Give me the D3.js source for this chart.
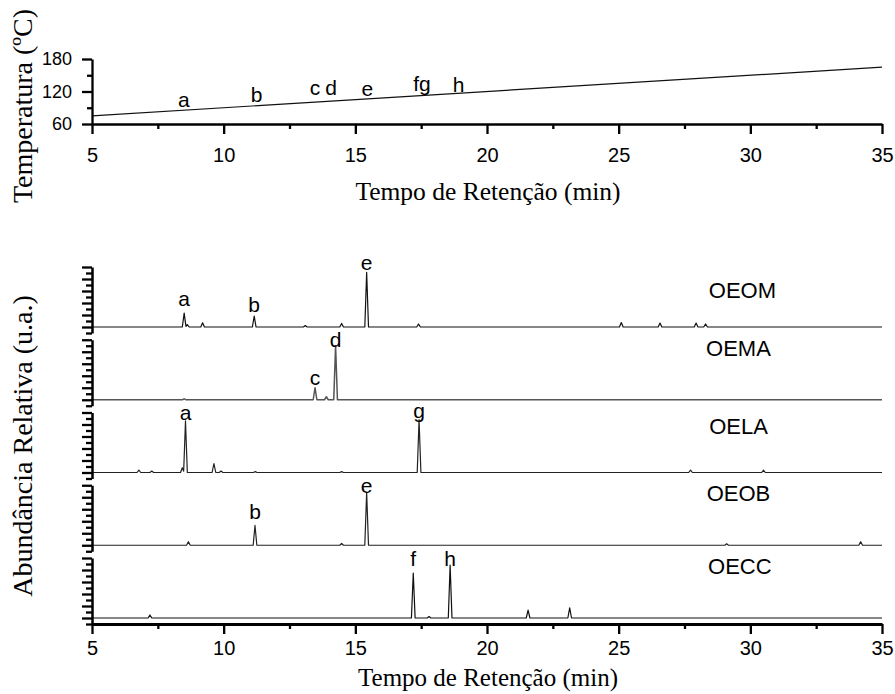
<!DOCTYPE html>
<html>
<head>
<meta charset="utf-8">
<script src="https://cdn.jsdelivr.net/npm/d3@7"></script>
<style>
  body { margin: 0; background: #fff; }
  svg { display: block; }
  .sans { font-family: "Liberation Sans", Arial, sans-serif; }
  .serif { font-family: "Liberation Serif", "Times New Roman", serif; }
</style>
</head>
<body>
<script>
// ---- Oven temperature program (retention time in min, temperature in °C)
const programTime = [5, 35];
const programTemp = [75, 165];

// Compounds marked on the temperature ramp
const compoundLetters = ["a", "b", "c", "d", "e", "fg", "h"];
const compoundTimes = [8.49, 11.25, 13.47, 14.08, 15.46, 17.53, 18.92];
const compoundLabelTemps = [91.4, 100.6, 113.5, 113.5, 111.7, 120.5, 119.6];

// ---- Chromatograms: [retention time (min), relative abundance]
const samples = ["OEOM", "OEMA", "OELA", "OEOB", "OECC"];
const peaksOEOM = [[8.5, 23], [8.62, 4], [9.2, 7], [11.16, 18], [13.1, 2.5], [14.48, 6], [15.43, 91],
                   [17.4, 5], [25.1, 7.5], [26.57, 6.5], [27.94, 6.5], [28.3, 5]];
const peaksOEMA = [[8.5, 1.5], [13.47, 20], [13.9, 5], [14.25, 90]];
const peaksOELA = [[6.78, 4], [7.27, 2.5], [8.43, 8], [8.55, 86], [9.63, 15], [9.9, 2.5], [11.2, 1.5],
                   [14.48, 1.5], [17.42, 88], [27.73, 4], [30.5, 4]];
const peaksOEOB = [[8.66, 6], [11.19, 33], [14.48, 3], [15.43, 88], [29.1, 2.5], [34.19, 6]];
const peaksOECC = [[7.2, 5], [17.2, 75], [17.8, 2.5], [18.6, 88], [21.56, 13], [23.14, 17]];
const samplePeaks = [peaksOEOM, peaksOEMA, peaksOELA, peaksOEOB, peaksOECC];

// Peak identifications: [letter, retention time, label height]
const labelsOEOM = [["a", 8.5, 35], ["b", 11.16, 25.5], ["e", 15.43, 95]];
const labelsOEMA = [["c", 13.47, 24.6], ["d", 14.25, 88]];
const labelsOELA = [["a", 8.55, 87.5], ["g", 17.42, 91]];
const labelsOEOB = [["b", 11.19, 43.7], ["e", 15.43, 87.6]];
const labelsOECC = [["f", 17.2, 87], ["h", 18.6, 87]];
const sampleLabels = [labelsOEOM, labelsOEMA, labelsOELA, labelsOEOB, labelsOECC];

// Sample name placement [time, height]
const nameTimes = [29.7, 29.55, 29.55, 29.55, 29.6];
const nameHeights = [48, 73, 64, 74, 73];

const timeTicks = [5, 10, 15, 20, 25, 30, 35];
const timeMinorTicks = [7.5, 12.5, 17.5, 22.5, 27.5, 32.5];
const tempTicks = [60, 120, 180];
const tempMinorTicks = [90, 150];
const layerTicks = [0, 20, 40, 60, 80, 100];
const layerMinorTicks = [-10, 10, 30, 50, 70, 90];

// ---- Layout
const W = 895, H = 694;
const svg = d3.select("body").append("svg").attr("width", W).attr("height", H);

const x = d3.scaleLinear().domain([5, 35]).range([92, 882]);

// ===== Top panel: temperature program =====
const yT = d3.scaleLinear().domain([60, 180]).range([124, 59]);
const topPanel = svg.append("g");

topPanel.append("path")
  .datum(d3.zip(programTime, programTemp))
  .attr("fill", "none").attr("stroke", "#111").attr("stroke-width", 1.2)
  .attr("d", d3.line().x(d => x(d[0])).y(d => yT(d[1])));

function styleAxis(g, w) {
  g.selectAll(".domain").attr("stroke", "#000").attr("stroke-width", w);
  g.selectAll(".tick line").attr("stroke", "#000").attr("stroke-width", 2.3);
}

// y axis
const gTy = topPanel.append("g").attr("transform", "translate(92,0)")
  .call(d3.axisLeft(yT).tickValues(tempTicks).tickSize(10).tickSizeOuter(0).tickPadding(10).tickFormat(d3.format("d")));
gTy.selectAll("text").attr("class", "sans").attr("font-size", 18).attr("fill", "#000");
styleAxis(gTy, 2.3);
const gTyMin = topPanel.append("g").attr("transform", "translate(92,0)")
  .call(d3.axisLeft(yT).tickValues(tempMinorTicks).tickSize(5).tickSizeOuter(0).tickFormat(""));
gTyMin.select(".domain").remove();
styleAxis(gTyMin, 2);

// x axis
const gTx = topPanel.append("g").attr("transform", "translate(0,124)")
  .call(d3.axisBottom(x).tickValues(timeTicks).tickSize(10).tickSizeOuter(0).tickPadding(14).tickFormat(d3.format("d")));
gTx.selectAll("text").attr("class", "sans").attr("font-size", 20).attr("fill", "#000");
styleAxis(gTx, 2.5);
const gTxMin = topPanel.append("g").attr("transform", "translate(0,124)")
  .call(d3.axisBottom(x).tickValues(timeMinorTicks).tickSize(5).tickSizeOuter(0).tickFormat(""));
gTxMin.select(".domain").remove();
styleAxis(gTxMin, 2);

// compound letters along the ramp
topPanel.selectAll("text.cmp")
  .data(d3.zip(compoundLetters, compoundTimes, compoundLabelTemps))
  .join("text").attr("class", "cmp sans")
  .attr("x", d => x(d[1])).attr("y", d => yT(d[2]))
  .attr("text-anchor", "middle").attr("font-size", 21).attr("fill", "#000")
  .text(d => d[0]);

topPanel.append("text").attr("class", "serif")
  .attr("x", 488).attr("y", 200).attr("text-anchor", "middle")
  .attr("font-size", 25.5).attr("fill", "#000")
  .text("Tempo de Retenção (min)");
topPanel.append("text").attr("class", "serif")
  .attr("transform", "translate(32,106) rotate(-90)").attr("text-anchor", "middle")
  .attr("font-size", 28).attr("fill", "#000")
  .text("Temperatura (ºC)");

// ===== Bottom panel: stacked chromatograms =====
const layerTop0 = 267, layerPitch = 72.75, layerH = 66;
const peakHalfWidth = 0.07;
const lineColors = ["#111", "#555", "#222", "#222", "#111"];

// Trace = sum of narrow triangular peaks over a flat baseline
function trace(peaks) {
  const pts = new Set([5, 35]);
  peaks.forEach(([t]) => { pts.add(t - peakHalfWidth); pts.add(t); pts.add(t + peakHalfWidth); });
  const ts = Array.from(pts).sort((a, b) => a - b);
  return ts.map(t => [t, d3.sum(peaks, ([pt, h]) => Math.max(0, h * (1 - Math.abs(t - pt) / peakHalfWidth)))]);
}

const bottomPanel = svg.append("g");
samples.forEach((name, i) => {
  const t0 = layerTop0 + i * layerPitch;
  const y = d3.scaleLinear().domain([-10, 100]).range([t0 + layerH, t0]);
  const g = bottomPanel.append("g");

  g.append("path")
    .datum(trace(samplePeaks[i]))
    .attr("fill", "none").attr("stroke", lineColors[i]).attr("stroke-width", i === 1 ? 1.5 : 1.2)
    .attr("stroke-linejoin", "round")
    .attr("d", d3.line().x(d => x(d[0])).y(d => y(d[1])));

  const ga = g.append("g").attr("transform", "translate(92,0)")
    .call(d3.axisLeft(y).tickValues(layerTicks).tickSize(10).tickSizeOuter(0).tickFormat(""));
  styleAxis(ga, 2.5);
  const gm = g.append("g").attr("transform", "translate(92,0)")
    .call(d3.axisLeft(y).tickValues(layerMinorTicks).tickSize(6).tickSizeOuter(0).tickFormat(""));
  gm.select(".domain").remove();
  styleAxis(gm, 2.5);

  g.selectAll("text.pk")
    .data(sampleLabels[i])
    .join("text").attr("class", "pk sans")
    .attr("x", d => x(d[1])).attr("y", d => y(d[2]))
    .attr("text-anchor", "middle").attr("font-size", 21).attr("fill", "#000")
    .text(d => d[0]);

  g.append("text").attr("class", "sans")
    .attr("x", x(nameTimes[i])).attr("y", y(nameHeights[i]))
    .attr("text-anchor", "middle").attr("font-size", 22).attr("fill", "#000")
    .text(name);
});

const axisY = layerTop0 + 4 * layerPitch + layerH;
const gBx = bottomPanel.append("g").attr("transform", `translate(0,${axisY})`)
  .call(d3.axisBottom(x).tickValues(timeTicks).tickSize(10).tickSizeOuter(0).tickPadding(7).tickFormat(d3.format("d")));
gBx.selectAll("text").attr("class", "sans").attr("font-size", 20).attr("fill", "#000");
styleAxis(gBx, 3);
const gBxMin = bottomPanel.append("g").attr("transform", `translate(0,${axisY})`)
  .call(d3.axisBottom(x).tickValues(timeMinorTicks).tickSize(5).tickSizeOuter(0).tickFormat(""));
gBxMin.select(".domain").remove();
styleAxis(gBxMin, 2);

bottomPanel.append("text").attr("class", "serif")
  .attr("x", 488).attr("y", 686).attr("text-anchor", "middle")
  .attr("font-size", 25).attr("fill", "#000")
  .text("Tempo de Retenção (min)");
bottomPanel.append("text").attr("class", "serif")
  .attr("transform", "translate(32,446) rotate(-90)").attr("text-anchor", "middle")
  .attr("font-size", 28).attr("fill", "#000")
  .text("Abundância Relativa (u.a.)");
</script>
</body>
</html>
